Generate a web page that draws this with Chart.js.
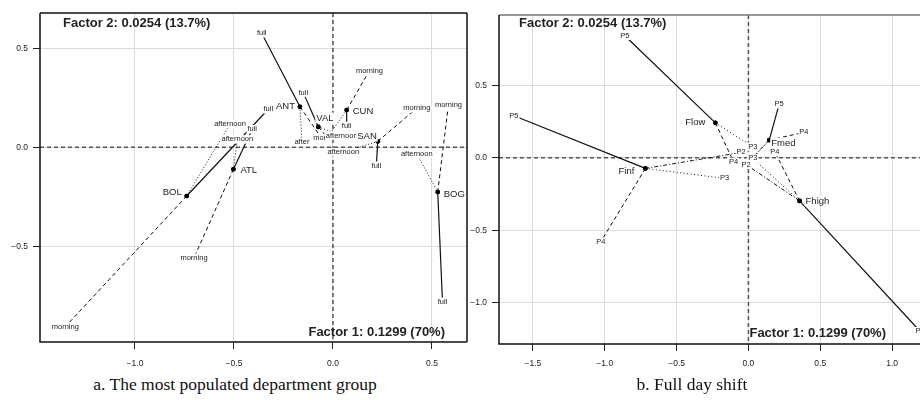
<!DOCTYPE html>
<html><head><meta charset="utf-8">
<script src="https://cdn.jsdelivr.net/npm/chart.js@4.4.0/dist/chart.umd.min.js"></script>
<style>
html,body{margin:0;padding:0;background:#fff;width:920px;height:400px;overflow:hidden;position:relative}
canvas{position:absolute;top:0}
#c1{left:0}
#c2{left:462px}
.cap{position:absolute;top:374px;font-family:"Liberation Serif","DejaVu Serif",serif;font-size:17.5px;color:#111;white-space:nowrap;transform:translateX(-50%)}
</style></head><body>
<canvas id="c1" width="472" height="372"></canvas>
<canvas id="c2" width="470" height="372"></canvas>
<div class="cap" style="left:235px">a. The most populated department group</div>
<div class="cap" style="left:692px">b. Full day shift</div>
<script>
// ---------- Panel a data ----------
const deptNames = ['ANT','VAL','CUN','SAN','ATL','BOL','BOG'];
const deptX = [-0.167,-0.074,0.069,0.226,-0.503,-0.739,0.529];
const deptY = [0.205,0.103,0.188,0.030,-0.111,-0.246,-0.226];
const morningX = [-0.057,-0.030,0.184,0.423,-0.702,-1.352,0.583];
const morningY = [0.045,0.050,0.387,0.197,-0.558,-0.906,0.214];
const morningText = ['morn','','morning','morning','morning','morning','morning'];
const afternoonX = [-0.157,0.044,-0.025,0.052,-0.483,-0.520,0.423];
const afternoonY = [0.027,0.059,0.055,-0.025,0.040,0.117,-0.032];
const afternoonText = ['after','afternoon','','afternoon','afternoon','afternoon','afternoon'];
const fullX = [-0.360,-0.150,0.069,0.219,-0.408,-0.327,0.553];
const fullY = [0.576,0.276,0.108,-0.093,0.091,0.192,-0.780];
const fullText = ['full','full','full','full','full','full','full'];
const aXTicks = [-1.0,-0.5,0.0,0.5];
const aYTicks = [-0.5,0.0,0.5];

// ---------- Panel b data ----------
const groupNames = ['Finf','Flow','Fmed','Fhigh'];
const groupX = [-0.717,-0.230,0.145,0.356];
const groupY = [-0.073,0.241,0.122,-0.297];
const p5X = [-1.632,-0.860,0.214,1.195];
const p5Y = [0.290,0.841,0.370,-1.195];
const p4X = [-1.028,-0.103,0.386,0.184];
const p4Y = [-0.579,-0.028,0.175,0.041];
const p3X = [-0.166,0.030,0.030,0.030];
const p3Y = [-0.142,0.076,-0.004,-0.004];
const p2X = [-0.051,null,-0.017,-0.017];
const p2Y = [0.037,null,-0.046,-0.046];
const bXTicks = [-1.5,-1.0,-0.5,0.0,0.5,1.0];
const bYTicks = [-1.0,-0.5,0.0,0.5];

const axisTitleX = 'Factor 1: 0.1299 (70%)';
const axisTitleY = 'Factor 2: 0.0254 (13.7%)';

// ---------- styles ----------
const SANS = '"Liberation Sans", Arial, sans-serif';
const fmt = v => (v < 0 ? '\u2212' : '') + Math.abs(v).toFixed(1);

function buildDatasets(cx, cy, subs) {
  const ds = [];
  subs.forEach(s => {
    cx.forEach((x, i) => {
      if (s.x[i] === null) return;
      ds.push({
        data: [{x: x, y: cy[i]}, {x: s.x[i], y: s.y[i]}],
        showLine: true, borderColor: '#111', borderWidth: s.width,
        borderDash: s.dash, pointRadius: 0, fill: false
      });
    });
  });
  ds.push({
    data: cx.map((x, i) => ({x: x, y: cy[i]})),
    showLine: false, pointRadius: 2.3, pointBackgroundColor: '#000',
    pointBorderColor: '#000', pointBorderWidth: 0
  });
  return ds;
}

function drawText(ctx, text, px, py, size, align, weight, box) {
  if (!text) return;
  ctx.font = (weight || '') + ' ' + size + 'px ' + SANS;
  const w = ctx.measureText(text).width;
  let lx = align === 'left' ? px : (align === 'right' ? px - w : px - w / 2);
  if (box) {
    ctx.fillStyle = '#fff';
    ctx.fillRect(lx - 1, py - size / 2 - 0.5, w + 2, size + 1);
  }
  ctx.fillStyle = '#222';
  ctx.textBaseline = 'middle';
  ctx.textAlign = 'left';
  ctx.fillText(text, lx, py);
}

const decor = {
  id: 'decor',
  beforeDatasetsDraw(chart, args, o) {
    const {ctx, chartArea: a, scales: {x, y}} = chart;
    ctx.save();
    ctx.beginPath(); ctx.rect(a.left, a.top, a.right - a.left, a.bottom - a.top); ctx.clip();
    ctx.strokeStyle = '#555'; ctx.lineWidth = 1.5; ctx.setLineDash([4, 3]);
    const x0 = x.getPixelForValue(0), y0 = y.getPixelForValue(0);
    ctx.beginPath(); ctx.moveTo(x0, a.top); ctx.lineTo(x0, a.bottom); ctx.stroke();
    ctx.beginPath(); ctx.moveTo(a.left, y0); ctx.lineTo(a.right, y0); ctx.stroke();
    ctx.restore();
  },
  afterDatasetsDraw(chart, args, o) {
    const {ctx, chartArea: a, scales: {x, y}} = chart;
    ctx.save();
    o.subs.forEach(s => {
      s.x.forEach((v, i) => {
        if (v === null) return;
        drawText(ctx, s.text[i], x.getPixelForValue(v), y.getPixelForValue(s.y[i]), o.subSize, 'center', '', true);
      });
    });
    o.cx.forEach((v, i) => {
      ctx.fillStyle = '#000';
      ctx.beginPath();
      ctx.arc(x.getPixelForValue(v), y.getPixelForValue(o.cy[i]), 2.3, 0, Math.PI * 2);
      ctx.fill();
    });
    o.names.forEach((n, i) => {
      const off = o.offsets[i];
      drawText(ctx, n, x.getPixelForValue(o.cx[i]) + off[0], y.getPixelForValue(o.cy[i]) + off[1], o.nameSize, off[2], '', true);
    });
    drawText(ctx, axisTitleY, a.left + o.t2[0], a.top + o.t2[1], 13, 'left', 'bold', false);
    drawText(ctx, axisTitleX, a.right + o.t1[0], a.bottom + o.t1[1], 13, 'right', 'bold', false);
    ctx.restore();
  },
  afterDraw(chart, args, o) {
    const {ctx, chartArea: a} = chart;
    ctx.save();
    ctx.setLineDash([]);
    ctx.lineWidth = 1.5;
    ctx.strokeStyle = o.topColor;
    ctx.beginPath(); ctx.moveTo(a.left, a.top); ctx.lineTo(a.right, a.top); ctx.stroke();
    ctx.strokeStyle = '#111';
    ctx.beginPath(); ctx.moveTo(a.right, a.top); ctx.lineTo(a.right, a.bottom); ctx.stroke();
    ctx.beginPath(); ctx.moveTo(a.left, a.top); ctx.lineTo(a.left, a.bottom); ctx.lineTo(a.right, a.bottom); ctx.stroke();
    ctx.restore();
  }
};

function scaleCfg(ticks, min, max, fitSize, isX, pad) {
  return {
    type: 'linear', min: min, max: max,
    afterBuildTicks: s => { s.ticks = ticks.map(v => ({value: v})); },
    afterFit: s => { if (isX) s.height = fitSize; else s.width = fitSize; },
    grid: {color: '#dcdcdc', lineWidth: 1, tickLength: 7, tickColor: '#222', drawTicks: true},
    border: {display: false},
    ticks: {font: {size: 8.5, family: SANS}, color: '#222', padding: pad, maxRotation: 0,
            autoSkip: false, callback: v => fmt(v)}
  };
}

function makeChart(id, cfg) {
  new Chart(document.getElementById(id), {
    type: 'scatter',
    data: {datasets: buildDatasets(cfg.cx, cfg.cy, cfg.subs)},
    options: {
      responsive: false, animation: false, events: [],
      layout: {padding: cfg.padding},
      scales: {
        x: scaleCfg(cfg.xTicks, cfg.xMin, cfg.xMax, cfg.xFit, true, cfg.xPad),
        y: scaleCfg(cfg.yTicks, cfg.yMin, cfg.yMax, cfg.yFit, false, 5)
      },
      plugins: {
        legend: {display: false}, tooltip: {enabled: false},
        decor: {subs: cfg.subs, cx: cfg.cx, cy: cfg.cy, names: cfg.names, offsets: cfg.offsets,
                subSize: 7.5, nameSize: 9.5, t1: cfg.t1, t2: cfg.t2, topColor: cfg.topColor}
      }
    },
    plugins: [decor]
  });
}

makeChart('c1', {
  cx: deptX, cy: deptY, names: deptNames,
  subs: [
    {x: fullX, y: fullY, text: fullText, dash: [], width: 1.2},
    {x: morningX, y: morningY, text: morningText, dash: [4, 3], width: 1},
    {x: afternoonX, y: afternoonY, text: afternoonText, dash: [1, 2], width: 1}
  ],
  offsets: [[-5, 0, 'right'], [-2, -9, 'left'], [6, 1.5, 'left'], [-1, -5, 'right'],
            [7, 1.5, 'left'], [-5, -4, 'right'], [6, 2.5, 'left']],
  xTicks: aXTicks, yTicks: aYTicks,
  xMin: -1.4798, xMax: 0.6768, yMin: -0.983, yMax: 0.678,
  xFit: 30, yFit: 40, xPad: 10,
  padding: {left: 0, right: 5, top: 13, bottom: 0},
  t1: [-22, -9.5], t2: [23, 10], topColor: '#111'
});

makeChart('c2', {
  cx: groupX, cy: groupY, names: groupNames,
  subs: [
    {x: p5X, y: p5Y, text: ['P5','P5','P5','P5'], dash: [], width: 1.2},
    {x: p4X, y: p4Y, text: ['P4','P4','P4','P4'], dash: [4, 3], width: 1},
    {x: p3X, y: p3Y, text: ['P3','P3','P3','P3'], dash: [1, 2.5], width: 1},
    {x: p2X, y: p2Y, text: ['P2','P2','P2','P2'], dash: [4, 2, 1, 2], width: 1}
  ],
  offsets: [[-11, 3, 'right'], [-10, 0, 'right'], [2, 3, 'left'], [6, 0, 'left']],
  xTicks: bXTicks, yTicks: bYTicks,
  xMin: -1.736, xMax: 1.250, yMin: -1.283, yMax: 0.984,
  xFit: 28, yFit: 37, xPad: 8,
  padding: {left: 0, right: 0, top: 15, bottom: 0},
  t1: [-42, -10.5], t2: [20, 8], topColor: '#777'
});
</script>
</body></html>
